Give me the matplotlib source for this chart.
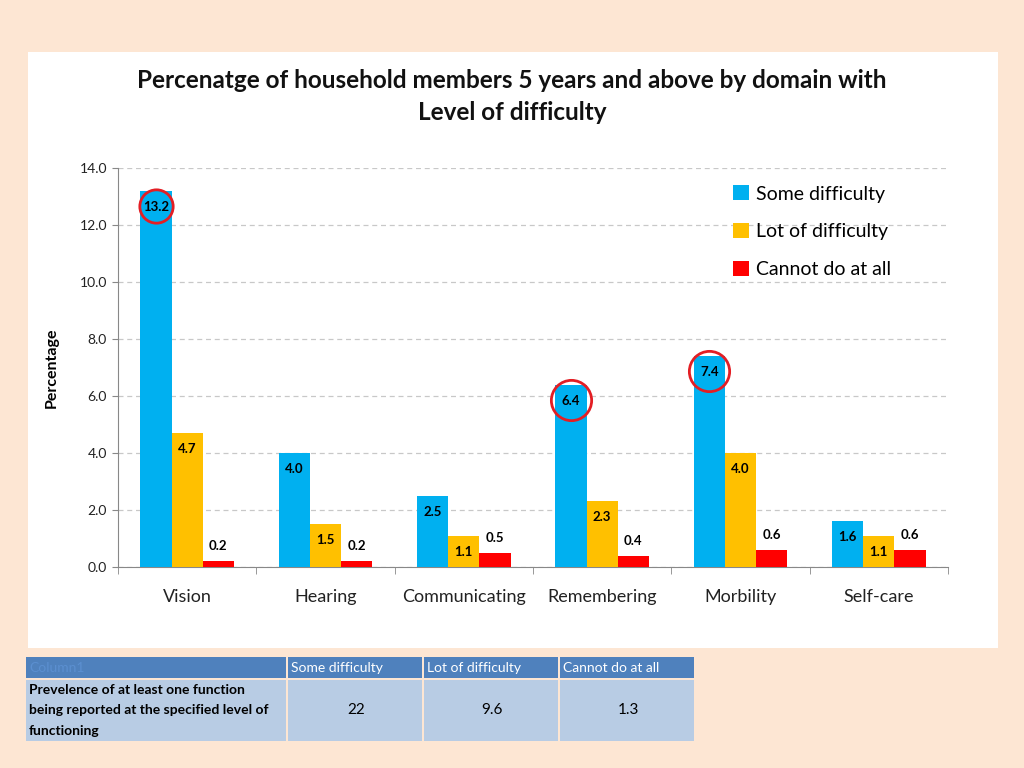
import matplotlib
matplotlib.use("Agg")
import matplotlib.pyplot as plt
import numpy as np
from matplotlib.patches import Rectangle
from matplotlib.transforms import offset_copy

plt.rcParams['font.family'] = ['Lato', 'DejaVu Sans']

categories = ["Vision", "Hearing", "Communicating", "Remembering", "Morbility", "Self-care"]
series_names = ["Some difficulty", "Lot of difficulty", "Cannot do at all"]
some_difficulty = [13.2, 4.0, 2.5, 6.4, 7.4, 1.6]
lot_of_difficulty = [4.7, 1.5, 1.1, 2.3, 4.0, 1.1]
cannot_do = [0.2, 0.2, 0.5, 0.4, 0.6, 0.6]
circled = [(0, 0), (0, 3), (0, 4)]  # (series index, category index)

table_header = ["Column1", "Some difficulty", "Lot of difficulty", "Cannot do at all"]
table_row_label = "Prevelence of at least one function\nbeing reported at the specified level of\nfunctioning"
table_values = ["22", "9.6", "1.3"]

colors = ["#00B0F0", "#FFC000", "#FF0000"]

W, H = 1024, 768
fig = plt.figure(figsize=(W / 100, H / 100), dpi=100)
fig.patch.set_facecolor("#FDE6D3")

def fx(px):
    return px / W

def fy(py):
    return 1 - py / H

# white panel
fig.patches.append(Rectangle((fx(28), fy(648)), fx(998) - fx(28), fy(52) - fy(648),
                             transform=fig.transFigure, facecolor="white", edgecolor="none", zorder=-10))

ax = fig.add_axes([fx(118), fy(567), fx(948) - fx(118), fy(168) - fy(567)])
ax.set_facecolor("white")

x = np.arange(len(categories))
bw = 0.225
series = [some_difficulty, lot_of_difficulty, cannot_do]
for i, (vals, c, name) in enumerate(zip(series, colors, series_names)):
    pos = x + (i - 1) * bw
    ax.bar(pos, vals, width=bw, color=c, label=name, zorder=3)
    for p, v in zip(pos, vals):
        if i < 2:
            tr = offset_copy(ax.transData, fig=fig, x=0, y=-16, units='dots')
        else:
            tr = offset_copy(ax.transData, fig=fig, x=0, y=15, units='dots')
        ax.text(p, v, f"{v:.1f}", transform=tr, ha='center', va='center',
                fontsize=9.5, fontweight='bold', color='black', zorder=5)

for si, ci in circled:
    v = series[si][ci]
    p = x[ci] + (si - 1) * bw
    tr = offset_copy(ax.transData, fig=fig, x=0, y=-15, units='dots')
    ms = 24 if v > 10 else 29
    ax.plot([p], [v], transform=tr, marker='o', markersize=ms, markerfacecolor='none',
            markeredgecolor='#E31E24', markeredgewidth=2, zorder=6, clip_on=False)

ax.set_ylim(0, 14)
ax.set_xlim(-0.5, len(categories) - 0.5)
ax.set_yticks(np.arange(0, 14.1, 2))
ax.set_yticklabels([f"{t:.1f}" for t in np.arange(0, 14.1, 2)], fontsize=10, color="#222222")
ax.yaxis.grid(True, linestyle=(0, (4, 3)), color="#C8C8C8", linewidth=0.9, zorder=0)
ax.set_axisbelow(True)

ax.set_xticks(x)
ax.set_xticklabels(categories, fontsize=13, color="#222222")
ax.tick_params(axis='x', length=0, pad=16)
ax.set_xticks(np.arange(-0.5, len(categories), 1), minor=True)
ax.tick_params(axis='x', which='minor', length=5, color="#888888")
ax.tick_params(axis='y', length=4, color="#888888", pad=4)

for s in ['top', 'right']:
    ax.spines[s].set_visible(False)
for s in ['left', 'bottom']:
    ax.spines[s].set_color("#888888")

ax.set_ylabel("Percentage", fontsize=11.5, fontweight='bold', labelpad=15)

leg = ax.legend(loc='upper left', bbox_to_anchor=(0.72, 1.0), frameon=False, fontsize=14,
                handlelength=0.8, handleheight=0.8, handletextpad=0.4, labelspacing=1.05)

fig.text(0.5, fy(80), "Percenatge of household members 5 years and above by domain with",
         ha='center', va='center', fontsize=17.5, fontweight='bold', color="#111111")
fig.text(0.5, fy(112), "Level of difficulty",
         ha='center', va='center', fontsize=17.5, fontweight='bold', color="#111111")

# table
cols = [26, 288, 424, 560, 696]
hy0, hy1 = 657, 678
by0, by1 = 680, 741
for j in range(4):
    x0, x1 = cols[j], cols[j + 1]
    fig.patches.append(Rectangle((fx(x0), fy(hy1)), fx(x1) - fx(x0) - 0.0015, fy(hy0) - fy(hy1),
                                 transform=fig.transFigure, facecolor="#4F81BD", edgecolor="none"))
    fig.patches.append(Rectangle((fx(x0), fy(by1)), fx(x1) - fx(x0) - 0.0015, fy(by0) - fy(by1),
                                 transform=fig.transFigure, facecolor="#B8CCE4", edgecolor="none"))
    hc = "#5B8FD0" if j == 0 else "white"
    fig.text(fx(x0 + 3), fy((hy0 + hy1) / 2), table_header[j], ha='left', va='center',
             fontsize=10, color=hc)
    if j == 0:
        fig.text(fx(x0 + 3), fy((by0 + by1) / 2), table_row_label, ha='left', va='center',
                 fontsize=10, fontweight='bold', color='black', linespacing=1.85)
    else:
        fig.text(fx((x0 + x1) / 2), fy((by0 + by1) / 2), table_values[j - 1], ha='center',
                 va='center', fontsize=11, color='black')

fig.savefig("out.png", dpi=100, facecolor=fig.get_facecolor())
